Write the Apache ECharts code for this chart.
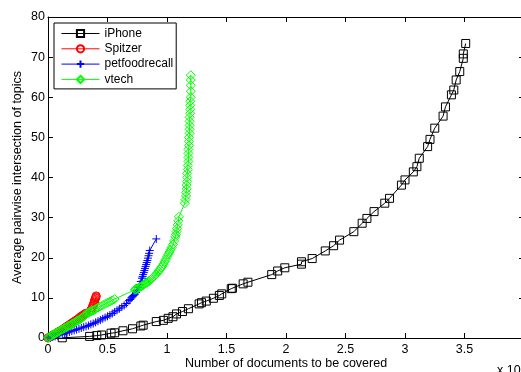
<!DOCTYPE html>
<html>
<head>
<meta charset="utf-8">
<script src="https://cdn.jsdelivr.net/npm/echarts@6/dist/echarts.min.js"></script>
<style>html,body{margin:0;padding:0;background:#fff}#c{width:521px;height:372px}</style>
</head>
<body>
<div id="c"></div>
<script>
// x values in units of 10^4 documents
const iphoneX = [0.12,0.35,0.41,0.45,0.53,0.56,0.63,0.71,0.78,0.80,0.91,0.97,1.01,1.05,1.08,1.13,1.18,1.27,1.29,1.33,1.39,1.44,1.46,1.54,1.55,1.64,1.68,1.88,1.93,1.99,2.13,2.13,2.22,2.33,2.40,2.45,2.57,2.64,2.68,2.74,2.83,2.87,2.97,3.00,3.07,3.10,3.12,3.19,3.21,3.25,3.32,3.34,3.39,3.41,3.43,3.46,3.49,3.49,3.51];
const iphoneY = [0.05,0.4,0.6,0.75,1.2,1.3,1.8,2.3,3.0,3.2,4.1,4.4,4.9,5.3,6.0,6.6,7.3,8.5,8.8,9.2,9.9,10.6,11.0,12.3,12.4,13.5,13.9,15.8,16.7,17.5,18.4,19.0,19.8,21.7,23.0,24.4,26.5,28.6,29.8,31.5,33.6,34.8,38.1,39.4,41.4,42.7,44.8,47.7,49.5,52.3,55.3,57.6,60.6,61.8,64.3,66.4,69.7,70.8,73.4];

const spitzerX = [0,0.01,0.02,0.03,0.04,0.05,0.06,0.07,0.08,0.09,0.10,0.11,0.12,0.13,0.14,0.15,0.16,0.17,0.18,0.19,0.20,0.21,0.22,0.23,0.24,0.25,0.26,0.27,0.28,0.29,0.30,0.31,0.32,0.36,0.37,0.375,0.38,0.385,0.39,0.39,0.395,0.40,0.40,0.405,0.405];
const spitzerY = [0,0.2,0.3,0.5,0.7,0.9,1.0,1.2,1.4,1.6,1.7,1.9,2.1,2.3,2.5,2.7,2.9,3.1,3.3,3.5,3.7,3.9,4.1,4.3,4.5,4.7,4.9,5.2,5.4,5.6,5.8,6.0,6.2,7.0,7.5,7.9,8.3,8.7,9.0,9.3,9.6,9.9,10.1,10.3,10.5];

const petfoodX = [0,0.02,0.04,0.06,0.08,0.10,0.12,0.14,0.16,0.18,0.20,0.22,0.24,0.26,0.28,0.30,0.32,0.34,0.36,0.38,0.40,0.42,0.44,0.46,0.48,0.50,0.52,0.54,0.56,0.58,0.60,0.62,0.64,0.66,0.68,0.69,0.70,0.71,0.72,0.73,0.74,0.75,0.76,0.77,0.78,0.79,0.795,0.80,0.805,0.81,0.815,0.82,0.825,0.83,0.835,0.84,0.845,0.85,0.855,0.91];
const petfoodY = [0,0.1,0.3,0.4,0.6,0.8,0.9,1.1,1.3,1.5,1.7,1.9,2.1,2.3,2.5,2.7,2.9,3.1,3.4,3.6,3.9,4.2,4.5,4.8,5.1,5.4,5.7,6.1,6.5,6.9,7.3,7.7,8.1,8.6,9.3,9.6,10.0,10.3,10.6,10.9,11.3,11.9,12.6,13.3,14.1,14.9,15.3,15.8,16.3,16.8,17.3,17.8,18.3,18.8,19.3,19.9,20.5,21.1,21.8,24.7];

const vtechX = [0,0.005,0.01,0.02,0.03,0.04,0.05,0.06,0.07,0.08,0.09,0.10,0.11,0.12,0.13,0.14,0.15,0.16,0.17,0.18,0.19,0.20,0.21,0.22,0.23,0.24,0.25,0.26,0.27,0.28,0.29,0.30,0.31,0.32,0.33,0.34,0.35,0.36,0.37,0.38,0.39,0.40,0.42,0.44,0.46,0.48,0.50,0.52,0.54,0.56,
  0.73,0.735,0.74,0.75,0.76,0.77,0.78,0.79,0.80,0.81,0.82,0.83,0.84,0.85,0.86,0.87,0.88,0.89,0.90,0.91,0.92,0.93,0.94,0.95,0.96,0.97,0.98,0.99,1.00,1.01,1.02,1.03,1.04,1.05,1.06,1.07,1.075,1.08,1.085,1.09,1.095,1.10,
  1.15,1.155,1.16,1.16,1.165,1.165,1.17,1.17,1.17,1.175,1.175,1.18,1.18,1.18,1.18,1.185,1.185,1.185,1.19,1.19,1.19,1.19,1.19,1.195,1.195,1.195,1.195,1.20,1.20,1.20,1.20,1.20];
const vtechY = [0,0.1,0.2,0.4,0.6,0.8,0.9,1.1,1.3,1.4,1.6,1.8,2.0,2.1,2.3,2.5,2.6,2.8,3.0,3.1,3.3,3.5,3.6,3.8,4.0,4.2,4.4,4.5,4.7,4.9,5.1,5.4,5.6,5.9,6.1,6.3,6.5,6.6,6.8,6.9,7.0,7.2,7.6,7.9,8.2,8.5,8.8,9.1,9.4,9.7,
  12.0,12.1,12.2,12.3,12.5,12.7,12.8,13.0,13.2,13.4,13.6,13.8,14.0,14.2,14.5,14.7,15.0,15.3,15.6,15.9,16.3,16.7,17.1,17.5,17.9,18.4,19.0,19.6,20.2,20.8,21.4,22.0,22.6,23.3,24.2,25.2,25.8,26.5,27.3,28.2,29.2,30.2,
  33.6,34.5,35.4,36.3,37.2,38.1,39.0,40.0,41.0,42.0,43.0,44.0,45.0,46.0,47.0,48.0,49.0,50.0,51.0,52.0,53.0,54.0,55.0,56.0,57.0,58.0,59.0,60.0,61.5,63.0,64.3,65.5];

const xTicks = [0,0.5,1,1.5,2,2.5,3,3.5];
const yTicks = [0,10,20,30,40,50,60,70,80];

function zip(a,b){return a.map((v,i)=>[v,b[i]]);}

const FONT = 'Liberation Sans, Arial, Helvetica, sans-serif';
const chart = echarts.init(document.getElementById('c'), null, {renderer:'canvas'});

const tickCommon = {show:true, inside:true, length:5, lineStyle:{color:'#000', width:1}};
const lineCommon = {show:true, onZero:false, lineStyle:{color:'#000', width:1}};

function mkSeries(name, xs, ys, color, symbol, size){
  return {
    name, type:'line', data: zip(xs,ys), symbol, symbolSize:size,
    showAllSymbol:true, animation:false,
    lineStyle:{color, width:1},
    itemStyle:{color:'rgba(0,0,0,0)', borderColor:color, borderWidth:1},
    emphasis:{disabled:true}
  };
}

chart.setOption({
  animation:false,
  backgroundColor:'#fff',
  textStyle:{fontFamily:FONT},
  grid:{left:48, top:17, width:476, height:321, containLabel:false, outerBoundsMode:'none'},
  legend:{
    orient:'vertical', left:54, top:23,
    itemWidth:38, itemHeight:9, itemGap:3.3,
    padding:[4.5,3,3.5,7],
    borderColor:'#000', borderWidth:1, backgroundColor:'#fff',
    lineStyle:{width:1},
    textStyle:{fontFamily:FONT, fontSize:12, color:'#000'},
    data:['iPhone','Spitzer','petfoodrecall','vtech']
  },
  xAxis:[{
    type:'value', min:0, max:4, interval:0.5, position:'bottom',
    axisLine:lineCommon, axisTick:tickCommon, splitLine:{show:false},
    axisLabel:{fontFamily:FONT, fontSize:12.5, color:'#000', margin:5,
      formatter:v=> xTicks.includes(v) ? String(v) : ''},
    name:'Number of documents to be covered', nameLocation:'middle', nameGap:19,
    nameMoveOverlap:false,
    nameTextStyle:{fontFamily:FONT, fontSize:12.5, color:'#000'}
  },{
    type:'value', min:0, max:4, interval:0.5, position:'top',
    axisLine:lineCommon, axisTick:tickCommon, axisLabel:{show:false}, splitLine:{show:false}
  }],
  yAxis:[{
    type:'value', min:0, max:80, interval:10, position:'left',
    axisLine:lineCommon, axisTick:tickCommon, splitLine:{show:false},
    axisLabel:{fontFamily:FONT, fontSize:12.5, color:'#000', margin:3,
      formatter:v=> yTicks.includes(v) ? String(v) : ''},
    name:'Average pairwise intersection of topics', nameLocation:'middle', nameGap:24,
    nameMoveOverlap:false,
    nameTextStyle:{fontFamily:FONT, fontSize:12.5, color:'#000'}
  },{
    type:'value', min:0, max:80, interval:10, position:'right',
    axisLine:lineCommon, axisTick:tickCommon, axisLabel:{show:false}, splitLine:{show:false}
  }],
  graphic:[{
    type:'text', left:497, top:363,
    style:{text:'x 10{s|4}', fontFamily:FONT, fontSize:12.5, fill:'#000',
      rich:{s:{fontSize:9, verticalAlign:'top', padding:[0,0,6,0], fontFamily:FONT}}}
  }],
  series:[
    mkSeries('iPhone', iphoneX, iphoneY, '#000000', 'rect', 8),
    mkSeries('Spitzer', spitzerX, spitzerY, '#ff0000', 'circle', 8),
    mkSeries('petfoodrecall', petfoodX, petfoodY, '#0000ff', 'path://M5,0L5,10M0,5L10,5', 8),
    mkSeries('vtech', vtechX, vtechY, '#00ff00', 'diamond', 9)
  ]
});
</script>
</body>
</html>
